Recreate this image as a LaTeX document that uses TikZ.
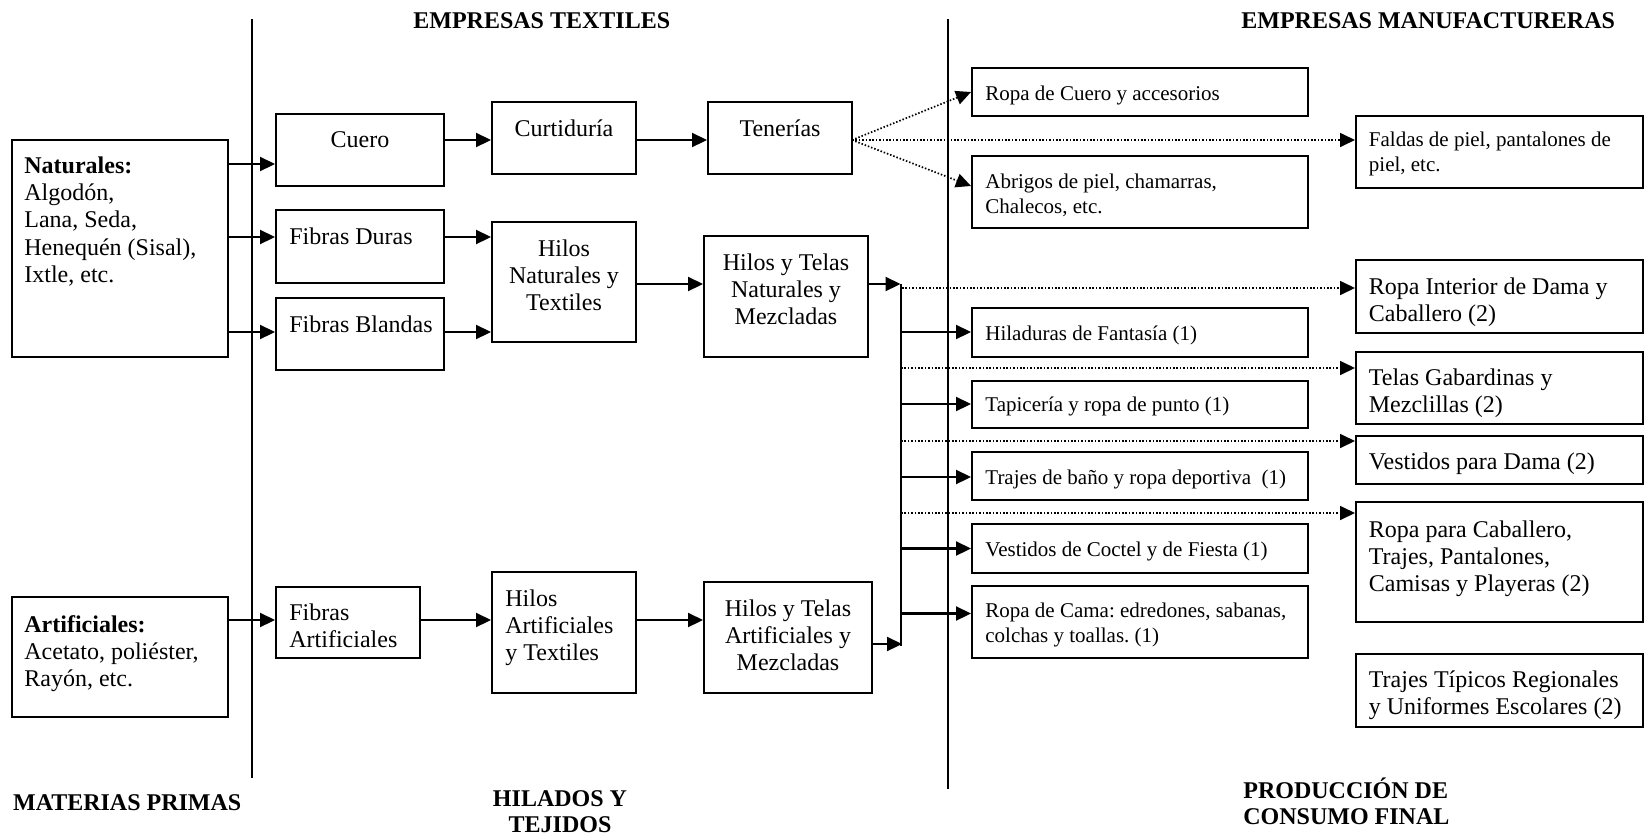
\documentclass[tikz,border=0pt]{standalone}
\usepackage{fontspec}
\setmainfont{Liberation Serif}
\usetikzlibrary{arrows.meta,fit,calc}
\frenchspacing
\newcommand\pl[1]{\parbox[t]{220pt}{\raggedright #1}}
\newcommand\pc[2]{\parbox[t]{#1}{\centering #2}}
\begin{document}
\begin{tikzpicture}[x=0.5pt,y=-0.5pt,
 box/.style={draw, line width=1pt, inner sep=0pt},
 arr/.style={line width=1.1pt, -{Triangle[length=7.5pt,width=7pt]}},
 darr/.style={line width=0.85pt, dash pattern=on 0.75pt off 0.95pt, -{Triangle[length=7.5pt,width=7pt]}},
 divl/.style={line width=0.75pt},
 bus/.style={line width=1pt},
 tb/.style={inner sep=0pt, font=\fontsize{12}{13.6}\selectfont},
 ts/.style={inner sep=0pt, font=\fontsize{10.5}{12.6}\selectfont},
 hd/.style={inner sep=0pt, font=\bfseries\fontsize{12}{13}\selectfont},
]
\useasboundingbox (0,0) rectangle (1645,836);

% dividers
\coordinate (d1t) at (252,19); \coordinate (d1b) at (252,778);
\coordinate (d2t) at (948,19); \coordinate (d2b) at (948,789);
\draw[divl] (d1t) -- (d1b);
\draw[divl] (d2t) -- (d2b);

% boxes
\node[box, fit={(12,140) (228,357)}] (nat) {};
\node[box, fit={(12,597) (228,717)}] (art) {};
\node[box, fit={(276,114) (444,186)}] (cuero) {};
\node[box, fit={(276,210) (444,283)}] (fdur) {};
\node[box, fit={(276,298) (444,370)}] (fbla) {};
\node[box, fit={(276,587) (420,658)}] (fart) {};
\node[box, fit={(492,102) (636,174)}] (curt) {};
\node[box, fit={(492,222) (636,342)}] (hnat) {};
\node[box, fit={(492,572) (636,693)}] (hart) {};
\node[box, fit={(708,102) (852,174)}] (ten) {};
\node[box, fit={(704,236) (868,357)}] (htn) {};
\node[box, fit={(704,582) (872,693)}] (hta) {};
\node[box, fit={(972,68) (1308,116)}] (rcue) {};
\node[box, fit={(972,156) (1308,228)}] (abr) {};
\node[box, fit={(972,308) (1308,357)}] (hil) {};
\node[box, fit={(972,381) (1308,428)}] (tap) {};
\node[box, fit={(972,452) (1308,500)}] (tra) {};
\node[box, fit={(972,524) (1308,573)}] (ves) {};
\node[box, fit={(972,586) (1308,658)}] (cama) {};
\node[box, fit={(1356,116) (1643,188)}] (fal) {};
\node[box, fit={(1356,260) (1643,333)}] (rin) {};
\node[box, fit={(1356,352) (1643,424)}] (tel) {};
\node[box, fit={(1356,436) (1643,484)}] (vdam) {};
\node[box, fit={(1356,502) (1643,622)}] (rcab) {};
\node[box, fit={(1356,654) (1643,727)}] (ttip) {};

% texts
\node[tb, anchor=base west] (tnat) at (24,173.5) {\pl{\textbf{Naturales:}\\Algodón,\\Lana, Seda,\\Henequén (Sisal),\\Ixtle, etc.}};
\node[tb, anchor=base west] (tart) at (24,632) {\pl{\textbf{Artificiales:}\\Acetato, poliéster,\\Rayón, etc.}};
\node[tb, anchor=base] (tcuero) at (360,147.5) {Cuero};
\node[tb, anchor=base] (tcurt) at (564,136) {Curtiduría};
\node[tb, anchor=base] (tten) at (780,136) {Tenerías};
\node[tb, anchor=base west] (tfdur) at (289,244) {Fibras Duras};
\node[tb, anchor=base west] (tfbla) at (289,332.5) {Fibras Blandas};
\node[tb, anchor=base west] (tfart) at (289,620) {\pl{Fibras\\Artificiales}};
\node[tb, anchor=base] (thnat) at (564,256) {\pc{80pt}{Hilos\\Naturales y\\Textiles}};
\node[tb, anchor=base west] (thart) at (505,606) {\pl{Hilos\\Artificiales\\y Textiles}};
\node[tb, anchor=base] (thtn) at (786,270) {\pc{90pt}{Hilos y Telas\\Naturales y\\Mezcladas}};
\node[tb, anchor=base] (thta) at (788,616) {\pc{90pt}{Hilos y Telas\\Artificiales y\\Mezcladas}};

\node[ts, anchor=base west] (trcue) at (985,100) {Ropa de Cuero y accesorios};
\node[ts, anchor=base west] (tabr) at (985,188) {\pl{Abrigos de piel, chamarras,\\Chalecos, etc.}};
\node[ts, anchor=base west] (thil) at (985,340) {Hiladuras de Fantasía (1)};
\node[ts, anchor=base west] (ttap) at (985,411.5) {Tapicería y ropa de punto (1)};
\node[ts, anchor=base west] (ttra) at (985,484) {Trajes de baño y ropa deportiva\ \ (1)};
\node[ts, anchor=base west] (tves) at (985,556) {Vestidos de Coctel y de Fiesta (1)};
\node[ts, anchor=base west] (tcama) at (985,617) {\pl{Ropa de Cama: edredones, sabanas,\\colchas y toallas. (1)}};
\node[ts, anchor=base west] (tfal) at (1368.5,146.5) {\pl{Faldas de piel, pantalones de\\piel, etc.}};

\node[tb, anchor=base west] (trin) at (1368.5,294) {\pl{Ropa Interior de Dama y\\Caballero (2)}};
\node[tb, anchor=base west] (ttel) at (1368.5,385) {\pl{Telas Gabardinas y\\Mezclillas (2)}};
\node[tb, anchor=base west] (tvdam) at (1368.5,469) {Vestidos para Dama (2)};
\node[tb, anchor=base west] (trcab) at (1368.5,537) {\pl{Ropa para Caballero,\\Trajes, Pantalones,\\Camisas y Playeras (2)}};
\node[tb, anchor=base west] (tttip) at (1368.5,687) {\pl{Trajes Típicos Regionales\\y Uniformes Escolares (2)}};

% headings
\node[hd, anchor=base west] (h1) at (413,28.5) {EMPRESAS TEXTILES};
\node[hd, anchor=base west] (h2) at (1241,28.5) {EMPRESAS MANUFACTURERAS};
\node[hd, anchor=base west] (h3) at (12.7,810) {MATERIAS PRIMAS};
\node[hd, anchor=base] (h4) at (560,806.5) {\pc{100pt}{HILADOS Y\\TEJIDOS}};
\node[hd, anchor=base west] (h5) at (1243,798) {\pl{PRODUCCIÓN DE\\CONSUMO FINAL}};

% arrow levels
\coordinate (ya) at (0,164);
\coordinate (yb) at (0,237);
\coordinate (yc) at (0,332);
\coordinate (yd) at (0,620);
\coordinate (ye) at (0,140);
\coordinate (yf) at (0,284);

\draw[arr] (nat.east |- ya) -- (cuero.west |- ya);
\draw[arr] (nat.east |- yb) -- (fdur.west |- yb);
\draw[arr] (nat.east |- yc) -- (fbla.west |- yc);
\draw[arr] (art.east |- yd) -- (fart.west |- yd);
\draw[arr] (cuero.east |- ye) -- (curt.west |- ye);
\draw[arr] (curt.east |- ye) -- (ten.west |- ye);
\draw[arr] (fdur.east |- yb) -- (hnat.west |- yb);
\draw[arr] (fbla.east |- yc) -- (hnat.west |- yc);
\draw[arr] (hnat.east |- yf) -- (htn.west |- yf);
\draw[arr] (fart.east |- yd) -- (hart.west |- yd);
\draw[arr] (hart.east |- yd) -- (hta.west |- yd);

% bus
\coordinate (btop) at (900.5,284);
\coordinate (bbot) at (900.5,646);
\coordinate (bb) at (902,644);
\draw[bus] (btop) -- (bbot);
\draw[arr] (htn.east |- btop) -- (btop);
\draw[arr] (hta.east |- bb) -- (bb);

\coordinate (b1) at (900.5,332);
\coordinate (b2) at (900.5,404);
\coordinate (b3) at (900.5,477);
\coordinate (b4) at (900.5,548.5);
\coordinate (b5) at (900.5,613.5);
\draw[arr] (b1) -- (b1 -| hil.west);
\draw[arr] (b2) -- (b2 -| tap.west);
\draw[arr] (b3) -- (b3 -| tra.west);
\draw[arr] (b4) -- (b4 -| ves.west);
\draw[arr] (b5) -- (b5 -| cama.west);

% dotted
\coordinate (c0) at (902,288);
\coordinate (c1) at (901,368);
\coordinate (c2) at (901,441);
\coordinate (c3) at (901,513);
\draw[darr] (c0) -- (c0 -| rin.west);
\draw[darr] (c1) -- (c1 -| tel.west);
\draw[darr] (c2) -- (c2 -| vdam.west);
\draw[darr] (c3) -- (c3 -| rcab.west);

\coordinate (r1) at (972,92);
\coordinate (r2) at (972,186);
\coordinate (r0) at (852,140);
\draw[darr] (r0) -- (rcue.west |- r1);
\draw[darr] (r0) -- (r0 -| fal.west);
\draw[darr] (r0) -- (abr.west |- r2);
\end{tikzpicture}
\end{document}
